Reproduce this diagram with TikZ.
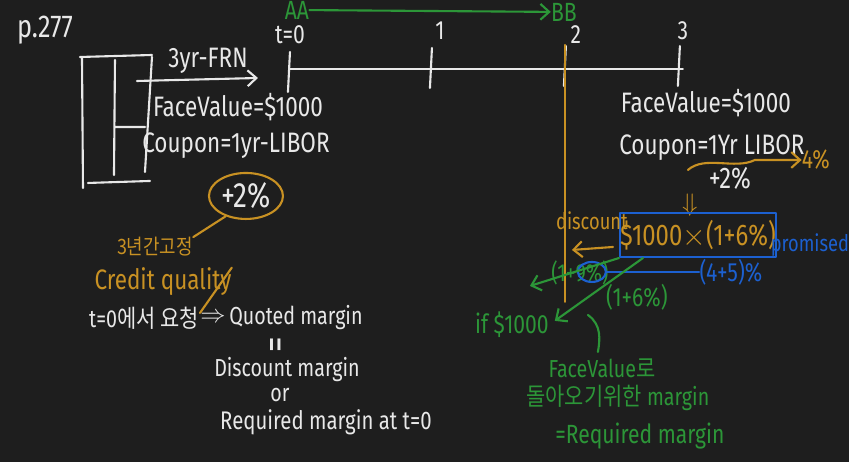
\documentclass[tikz,border=0pt]{standalone}
\usepackage{fontspec}
\setmainfont[FakeStretch=0.8]{Fira Sans}
\newfontfamily\krfont[FakeStretch=0.85]{Noto Sans CJK KR}
\usetikzlibrary{arrows.meta, calc, shapes.geometric}
\definecolor{board}{RGB}{30,30,30}
\definecolor{chalk}{RGB}{232,232,232}
\definecolor{pengreen}{RGB}{44,150,56}
\definecolor{penorange}{RGB}{200,145,35}
\definecolor{penblue}{RGB}{28,96,208}
\tikzset{
  ink/.style={line width=1.2pt, line cap=round, line join=round},
  txt/.style={inner sep=0pt, font=\fontsize{13}{15}\selectfont},
  wt/.style={txt, text=chalk},
  gt/.style={txt, text=pengreen},
  ot/.style={txt, text=penorange},
  bt/.style={txt, text=penblue},
  barb/.style={-{Straight Barb[length=5pt, width=9pt]}}
}
\begin{document}
\begin{tikzpicture}[x=0.02cm, y=-0.02cm]
\fill[board] (0,0) rectangle (849,462);
\node[wt, font=\fontsize{18}{20}\selectfont] (page) at (45,30) {p.277};
\coordinate (t0) at (290,69);
\coordinate (t3) at (683,69);
\draw[ink, chalk] (t0) -- (t3);
\foreach \x/\y in {290/52, 432/48, 566/46, 680/46} \draw[ink, chalk] (\x,\y) -- (\x-2,\y+40);
\node[wt, font=\fontsize{15}{17}\selectfont] (lab0) at (290,35) {t=0};
\node[wt, font=\fontsize{15}{17}\selectfont] (lab1) at (440,31) {1};
\node[wt, font=\fontsize{15}{17}\selectfont] (lab2) at (576,35) {2};
\node[wt, font=\fontsize{15}{17}\selectfont] (lab3) at (683,31) {3};
\node[gt, font=\fontsize{15}{17}\selectfont] (aa) at (297,10) {AA};
\node[gt, font=\fontsize{15}{17}\selectfont] (bb) at (564,12) {BB};
\draw[ink, pengreen, barb] (aa) -- (bb);
\draw[ink, penorange] (565,45) -- (565,302);
\draw[ink, chalk] (80,57) -- (152,55) (82,57) -- (83,188) (152,57) -- (145,172) (88,183) -- (150,181)
  (115,60) -- (114,175) (115,127) -- (145,127);
\coordinate (frnA) at (137,81);
\coordinate (frnB) at (258,78);
\draw[ink, chalk, barb] (frnA) -- (frnB);
\node[wt, font=\fontsize{16}{18}\selectfont] (frn) at (208,61) {3yr-FRN};
\node[wt, font=\fontsize{16}{18}\selectfont] (fv1) at (238,107) {FaceValue=\$1000};
\node[wt, font=\fontsize{16}{18}\selectfont] (cp1) at (236,146) {Coupon=1yr-LIBOR};
\node[wt, font=\fontsize{20}{22}\selectfont, draw=penorange, ellipse, ink, minimum width=1.48cm, minimum height=0.92cm] (sp1) at (246,196) {+2\%};
\node[ot, font=\fontsize{12}{14}\selectfont\krfont] (fix) at (155,247) {3년간고정};
\node[ot, font=\fontsize{16}{18}\selectfont] (cq) at (163,282) {Credit quality};
\draw[ink, penorange] (sp1.225) -- (fix.north east);
\node[wt, font=\fontsize{14}{16}\selectfont] (req) at (144,318) {t=0{\krfont 에서 요청}};
\node[wt, font=\fontsize{14}{16}\selectfont] (imp) at (213,318) {$\Rightarrow$};
\node[wt, font=\fontsize{14}{16}\selectfont] (qm) at (296,318) {Quoted margin};
\draw[ink, penorange] (cq.north east) -- (imp.north west);
\node[wt, font=\fontsize{22}{24}\selectfont, rotate=90] (eq) at (280,345) {=};
\node[wt, font=\fontsize{14}{16}\selectfont] (dm) at (287,370) {Discount margin};
\node[wt, font=\fontsize{14}{16}\selectfont] (orw) at (280,395) {or};
\node[wt, font=\fontsize{14.5}{16}\selectfont] (rm) at (326,422) {Required margin at t=0};
\node[wt, font=\fontsize{16}{18}\selectfont] (fv2) at (706,103) {FaceValue=\$1000};
\node[wt, font=\fontsize{16}{18}\selectfont] (cp2) at (712,148) {Coupon=1Yr LIBOR};
\node[wt, font=\fontsize{17}{19}\selectfont] (sp2) at (730,178) {+2\%};
\node[ot, font=\fontsize{15}{17}\selectfont] (four) at (816,160) {4\%};
\coordinate (wv) at (688,170);
\draw[ink, penorange, barb] (wv) .. controls (705,155) and (735,170) .. (755,160) -- (four.west);
\node[ot, font=\fontsize{14}{16}\selectfont] (dn) at (690,205) {$\Downarrow$};
\node[ot, font=\fontsize{17}{19}\selectfont, draw=penblue, ink, minimum width=2.9cm, minimum height=0.88cm] (amt) at (698,235) {\$1000$\times$(1+6\%)};
\node[ot, font=\fontsize{13}{15}\selectfont] (disc) at (592,221) {discount};
\coordinate (dl) at (572,250);
\draw[ink, penorange, barb] ($(amt.west)+(-6,12)$) -- (dl);
\node[bt, font=\fontsize{13}{15}\selectfont] (prom) at (810,245) {promised};
\node[gt, font=\fontsize{14}{16}\selectfont] (onep) at (580,273) {(1+9\%)};
\node[draw=penblue, ellipse, ink, minimum width=0.56cm, minimum height=0.4cm] (nine) at (592,272) {};
\node[bt, font=\fontsize{15}{17}\selectfont] (ff) at (731,272) {(4+5)\%};
\draw[ink, penblue] (nine.east) -- (ff.west);
\node[gt, font=\fontsize{15}{17}\selectfont] (sixp) at (637,297) {(1+6\%)};
\coordinate (gl) at (530,286);
\draw[ink, pengreen, barb] (amt.south west) -- (gl);
\node[gt, font=\fontsize{15}{17}\selectfont] (ifk) at (512,325) {if \$1000};
\draw[ink, pengreen, barb, shorten >=4pt] ($(amt.south west)+(24,0)$) -- (ifk.east);
\coordinate (brA) at (588,315);
\coordinate (brB) at (598,352);
\draw[ink, pengreen] (brA) .. controls (602,325) and (600,340) .. (brB);
\node[gt, font=\fontsize{14}{16}\selectfont] (fvr) at (602,368) {FaceValue{\krfont 로}};
\node[gt, font=\fontsize{14}{16}\selectfont] (back) at (618,398) {{\krfont 돌아오기위한} margin};
\node[gt, font=\fontsize{15}{17}\selectfont] (reqm) at (640,436) {=Required margin};
\end{tikzpicture}
\end{document}
